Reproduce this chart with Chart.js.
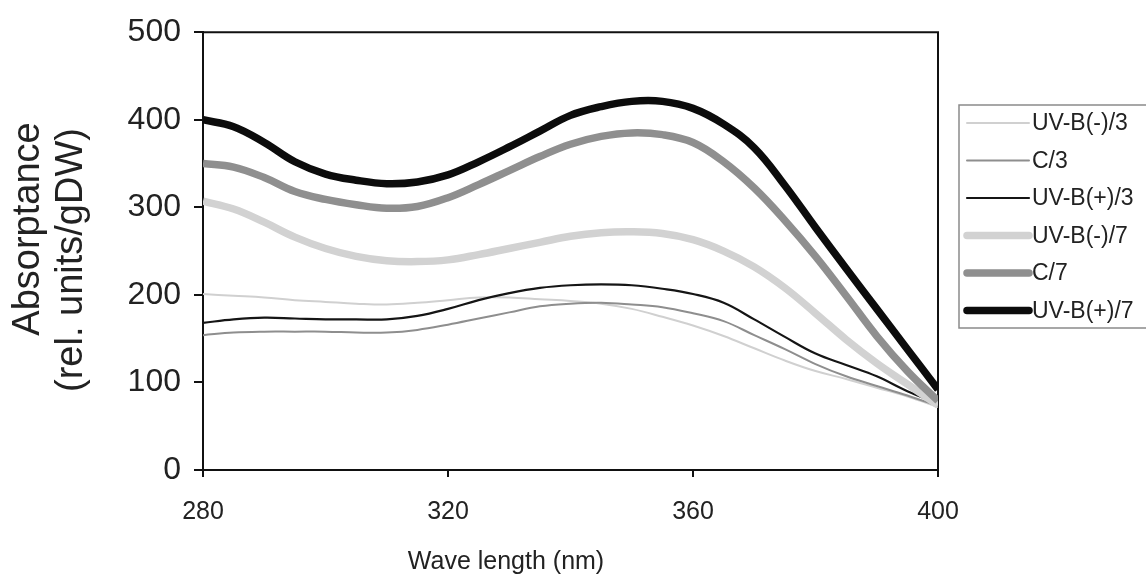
<!DOCTYPE html>
<html>
<head>
<meta charset="utf-8">
<script src="https://cdn.jsdelivr.net/npm/chart.js@4/dist/chart.umd.min.js"></script>
<style>
  body { margin: 0; background: #fff; }
  #wrap { width: 1146px; height: 581px; }
</style>
</head>
<body>
<div id="wrap"><canvas id="chart" width="1146" height="581"></canvas></div>
<script>
// wavelength (nm), every 5 nm
const waveLengths = [280, 285, 290, 295, 300, 305, 310, 315, 320, 325, 330, 335, 340,
  345, 350, 355, 360, 365, 370, 375, 380, 385, 390, 395, 400];

const uvbMinus3 = [201, 199, 197, 194, 192, 190, 189, 191, 194, 197, 197, 195, 193,
  190, 184, 175, 165, 153, 139, 125, 113, 104, 94, 84, 72];
const control3 = [154, 157, 158, 158, 158, 157, 157, 160, 166, 173, 180, 187, 190,
  191, 189, 186, 179, 170, 154, 138, 121, 107, 96, 85, 73];
const uvbPlus3 = [168, 172, 174, 173, 172, 172, 172, 176, 184, 194, 202, 208, 211,
  212, 211, 207, 201, 191, 172, 152, 133, 120, 107, 90, 76];
const uvbMinus7 = [307, 298, 283, 266, 253, 244, 239, 238, 240, 246, 253, 260, 267,
  271, 272, 270, 263, 250, 232, 208, 179, 149, 122, 98, 74];
const control7 = [350, 346, 334, 318, 309, 303, 299, 301, 311, 326, 342, 358, 372,
  381, 385, 383, 374, 352, 322, 285, 244, 199, 153, 113, 79];
const uvbPlus7 = [400, 392, 374, 352, 338, 331, 327, 329, 337, 352, 369, 387, 405,
  415, 421, 421, 413, 395, 368, 325, 277, 230, 184, 138, 92];

const seriesLabels = ['UV-B(-)/3', 'C/3', 'UV-B(+)/3', 'UV-B(-)/7', 'C/7', 'UV-B(+)/7'];
const seriesValues = [uvbMinus3, control3, uvbPlus3, uvbMinus7, control7, uvbPlus7];
const seriesColors = ['#d0d0d0', '#8e8e8e', '#151515', '#d2d2d2', '#8f8f8f', '#0c0c0c'];
const seriesWidths = [2, 2, 2.2, 7.5, 7.5, 7.5];

const xTicks = [280, 320, 360, 400];
const yTicks = [0, 100, 200, 300, 400, 500];

const X_TITLE = 'Wave length (nm)';
const Y_TITLE = ['Absorptance', '(rel. units/gDW)'];
const FONT = '"Liberation Sans", Arial, sans-serif';

const datasets = seriesLabels.map((label, i) => ({
  label: label,
  data: waveLengths.map((w, j) => ({ x: w, y: seriesValues[i][j] })),
  borderColor: seriesColors[i],
  backgroundColor: seriesColors[i],
  borderWidth: seriesWidths[i],
  pointRadius: 0,
  tension: 0.4,
  fill: false,
  order: seriesLabels.length - 1 - i
}));

// frame, axis titles and boxed legend
const decorations = {
  id: 'decorations',
  beforeDatasetsDraw(chart) {
    const { ctx, chartArea: a } = chart;
    ctx.save();
    ctx.strokeStyle = '#111';
    ctx.lineWidth = 2;
    ctx.beginPath();
    ctx.moveTo(a.left, a.top);
    ctx.lineTo(a.right, a.top);
    ctx.lineTo(a.right, a.bottom);
    ctx.stroke();
    ctx.restore();
  },
  afterDraw(chart) {
    const { ctx } = chart;
    ctx.save();
    ctx.fillStyle = '#222';
    ctx.textAlign = 'center';
    ctx.textBaseline = 'middle';

    ctx.font = '25px ' + FONT;
    ctx.fillText(X_TITLE, 506, 562);

    ctx.font = '38px ' + FONT;
    ctx.save();
    ctx.translate(29, 229);
    ctx.rotate(-Math.PI / 2);
    ctx.fillText(Y_TITLE[0], 0, 0);
    ctx.restore();
    ctx.save();
    ctx.translate(72, 260);
    ctx.rotate(-Math.PI / 2);
    ctx.fillText(Y_TITLE[1], 0, 0);
    ctx.restore();

    // legend box
    const boxLeft = 959, boxTop = 105, rowGap = 37.5, firstRow = 123;
    ctx.strokeStyle = '#8a8a8a';
    ctx.lineWidth = 1.5;
    ctx.strokeRect(boxLeft, boxTop, 200, 223);
    ctx.font = '23px ' + FONT;
    ctx.textAlign = 'left';
    chart.data.datasets.forEach((ds, i) => {
      const y = firstRow + i * rowGap;
      ctx.strokeStyle = ds.borderColor;
      ctx.lineWidth = ds.borderWidth;
      ctx.lineCap = 'round';
      ctx.beginPath();
      ctx.moveTo(967, y);
      ctx.lineTo(1029, y);
      ctx.stroke();
      ctx.fillStyle = '#222';
      ctx.fillText(ds.label, 1032, y + 1);
    });
    ctx.restore();
  }
};

new Chart(document.getElementById('chart').getContext('2d'), {
  type: 'line',
  data: { datasets: datasets },
  options: {
    responsive: false,
    animation: false,
    layout: { padding: { top: 22, right: 208, left: 0, bottom: 0 } },
    plugins: {
      legend: { display: false },
      tooltip: { enabled: false }
    },
    scales: {
      x: {
        type: 'linear',
        min: 280,
        max: 400,
        afterFit(scale) { scale.height = 111; },
        afterBuildTicks(scale) { scale.ticks = xTicks.map(v => ({ value: v })); },
        ticks: {
          color: '#222',
          font: { family: FONT, size: 25 },
          padding: 20,
          maxRotation: 0
        },
        grid: {
          drawOnChartArea: false,
          drawTicks: true,
          tickLength: 7,
          color: '#111',
          lineWidth: 2
        },
        border: { display: true, color: '#111', width: 2 }
      },
      y: {
        min: 0,
        max: 500,
        afterFit(scale) { scale.width = 203; },
        afterBuildTicks(scale) { scale.ticks = yTicks.map(v => ({ value: v })); },
        ticks: {
          color: '#222',
          font: { family: FONT, size: 32 },
          padding: 13
        },
        grid: {
          drawOnChartArea: false,
          drawTicks: true,
          tickLength: 9,
          color: '#111',
          lineWidth: 2
        },
        border: { display: true, color: '#111', width: 2 }
      }
    }
  },
  plugins: [decorations]
});
</script>
</body>
</html>
